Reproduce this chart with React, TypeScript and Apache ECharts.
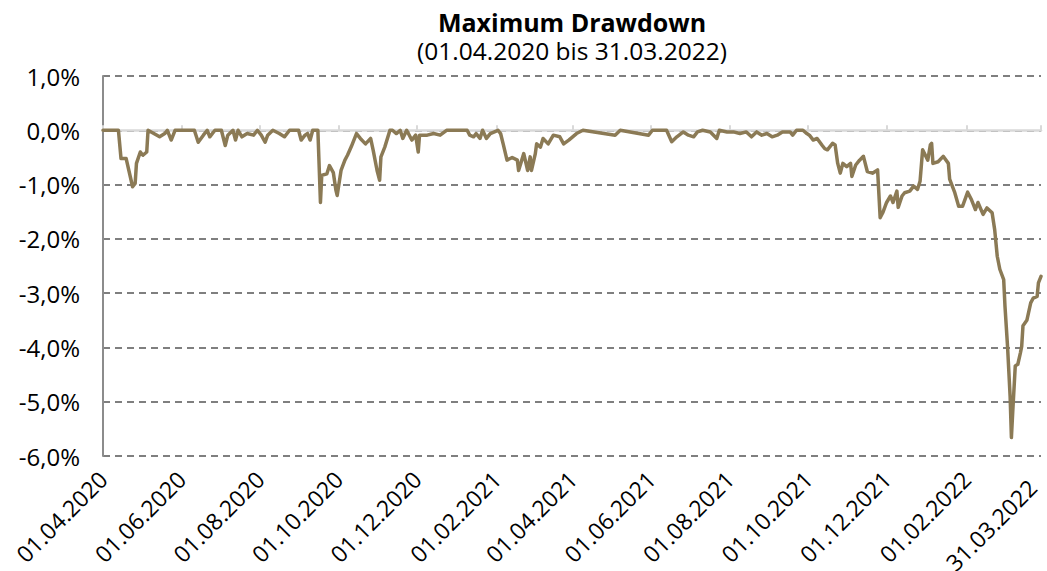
import React, { useEffect, useRef } from 'react';
import * as echarts from 'echarts';

const chartTitle = 'Maximum Drawdown';
const chartSubtitle = '(01.04.2020 bis 31.03.2022)';
const axisStart = '2020-04-01';
const axisEnd = '2022-03-31';
const tickDates = [
  '2020-04-01', '2020-06-01', '2020-08-01', '2020-10-01', '2020-12-01', '2021-02-01',
  '2021-04-01', '2021-06-01', '2021-08-01', '2021-10-01', '2021-12-01', '2022-02-01', '2022-03-31',
];
const yMin = -6;
const yMax = 1;
const yStep = 1;

const drawdownDates = [
  '2020-04-01', '2020-04-13', '2020-04-15', '2020-04-19', '2020-04-24', '2020-04-26', '2020-04-27', '2020-04-30',
  '2020-05-02', '2020-05-05', '2020-05-06', '2020-05-15', '2020-05-19', '2020-05-21', '2020-05-24', '2020-05-27',
  '2020-06-11', '2020-06-14', '2020-06-18', '2020-06-21', '2020-06-23', '2020-06-27',
  '2020-07-02', '2020-07-05', '2020-07-07', '2020-07-11', '2020-07-13', '2020-07-15', '2020-07-18', '2020-07-22', '2020-07-27', '2020-07-30',
  '2020-08-02', '2020-08-05', '2020-08-07', '2020-08-11', '2020-08-16', '2020-08-20', '2020-08-24', '2020-08-31',
  '2020-09-02', '2020-09-05', '2020-09-07', '2020-09-09', '2020-09-11', '2020-09-15', '2020-09-17', '2020-09-18',
  '2020-09-22', '2020-09-24', '2020-09-27', '2020-09-29', '2020-09-30',
  '2020-10-03', '2020-10-06', '2020-10-08', '2020-10-11', '2020-10-15', '2020-10-18', '2020-10-22', '2020-10-26', '2020-10-28', '2020-10-31',
  '2020-11-02', '2020-11-03', '2020-11-06', '2020-11-10', '2020-11-12', '2020-11-15', '2020-11-18', '2020-11-20', '2020-11-23', '2020-11-27', '2020-11-30',
  '2020-12-02', '2020-12-03', '2020-12-09', '2020-12-14', '2020-12-19', '2020-12-24',
  '2021-01-09', '2021-01-11', '2021-01-14', '2021-01-16', '2021-01-19', '2021-01-21', '2021-01-24', '2021-01-27',
  '2021-02-02', '2021-02-04', '2021-02-06', '2021-02-09', '2021-02-13', '2021-02-17', '2021-02-18', '2021-02-22', '2021-02-25', '2021-02-27', '2021-02-28',
  '2021-03-03', '2021-03-04', '2021-03-07', '2021-03-09', '2021-03-13', '2021-03-17', '2021-03-22', '2021-03-25', '2021-03-29',
  '2021-04-04', '2021-04-09', '2021-05-04', '2021-05-08', '2021-05-30',
  '2021-06-02', '2021-06-13', '2021-06-17', '2021-06-21', '2021-06-26', '2021-06-30',
  '2021-07-04', '2021-07-07', '2021-07-11', '2021-07-17', '2021-07-22', '2021-07-24', '2021-07-30',
  '2021-08-04', '2021-08-09', '2021-08-14', '2021-08-18', '2021-08-22', '2021-08-26', '2021-08-30',
  '2021-09-03', '2021-09-07', '2021-09-11', '2021-09-17', '2021-09-19', '2021-09-22', '2021-09-27', '2021-09-30',
  '2021-10-02', '2021-10-05', '2021-10-08', '2021-10-12', '2021-10-14', '2021-10-16', '2021-10-20', '2021-10-22', '2021-10-24', '2021-10-26', '2021-10-28', '2021-10-31',
  '2021-11-03', '2021-11-04', '2021-11-07', '2021-11-10', '2021-11-13', '2021-11-16', '2021-11-20', '2021-11-24', '2021-11-26', '2021-11-28',
  '2021-12-01', '2021-12-04', '2021-12-06', '2021-12-09', '2021-12-10', '2021-12-13', '2021-12-15', '2021-12-19', '2021-12-22', '2021-12-25', '2021-12-27', '2021-12-29',
  '2022-01-02', '2022-01-04', '2022-01-05', '2022-01-06', '2022-01-10', '2022-01-14', '2022-01-18', '2022-01-19', '2022-01-23', '2022-01-26', '2022-01-29',
  '2022-02-02', '2022-02-05', '2022-02-08', '2022-02-10', '2022-02-14', '2022-02-17', '2022-02-21', '2022-02-23', '2022-02-25', '2022-02-27',
  '2022-03-02', '2022-03-03', '2022-03-05', '2022-03-07', '2022-03-08', '2022-03-09', '2022-03-11', '2022-03-13', '2022-03-15', '2022-03-16',
  '2022-03-17', '2022-03-20', '2022-03-23', '2022-03-25', '2022-03-28', '2022-03-29', '2022-03-31',
];

const drawdownValues = [
  0, 0, -0.52, -0.52, -1.04, -0.98, -0.61, -0.40,
  -0.46, -0.40, 0, -0.12, -0.06, 0, -0.18, 0,
  0, -0.22, -0.09, 0, -0.12, 0,
  0, -0.28, -0.09, 0, -0.18, 0, -0.12, -0.06, -0.09, 0,
  -0.09, -0.22, -0.09, 0, -0.06, -0.12, 0, 0,
  -0.18, -0.09, -0.06, -0.18, 0, 0, -1.33, -0.83,
  -0.80, -0.65, -0.78, -1.10, -1.20,
  -0.74, -0.55, -0.46, -0.30, -0.06, -0.15, -0.25, -0.15, -0.37, -0.74,
  -0.92, -0.49, -0.31, 0, 0, -0.06, 0, -0.15, 0, -0.18, -0.09,
  -0.40, -0.09, -0.09, -0.06, -0.09, 0,
  0, -0.09, -0.12, -0.06, -0.15, 0, -0.15, -0.06,
  0, -0.06, -0.25, -0.55, -0.50, -0.55, -0.74, -0.43, -0.74, -0.49, -0.74,
  -0.43, -0.25, -0.31, -0.15, -0.25, -0.09, -0.12, -0.25, -0.18,
  -0.06, 0, -0.09, 0, -0.09,
  0, 0, -0.21, -0.12, -0.03, -0.09,
  -0.12, -0.03, 0, -0.03, -0.15, 0, -0.03,
  -0.03, -0.06, -0.03, -0.12, -0.03, -0.09, -0.06,
  -0.12, -0.09, -0.03, -0.03, -0.09, 0, 0, -0.06,
  -0.09, -0.18, -0.15, -0.28, -0.34, -0.36, -0.24, -0.27, -0.61, -0.79, -0.61, -0.67,
  -0.61, -0.85, -0.64, -0.55, -0.48, -0.76, -0.79, -0.73, -1.61, -1.52,
  -1.33, -1.21, -1.33, -1.12, -1.42, -1.21, -1.15, -1.12, -1.03, -1.09, -0.94, -0.36,
  -0.55, -0.27, -0.24, -0.61, -0.58, -0.48, -0.61, -0.90, -1.15, -1.40, -1.40,
  -1.14, -1.28, -1.46, -1.33, -1.55, -1.43, -1.52, -1.83, -2.32, -2.56,
  -2.75, -3.24, -3.98, -4.90, -5.66, -5.20, -4.34, -4.31, -4.10, -3.98,
  -3.60, -3.50, -3.18, -3.09, -3.06, -2.81, -2.69,
];

function buildCalendar(start: string, end: string): string[] {
  const out: string[] = [];
  const [sy, sm, sd] = start.split('-').map(Number);
  const [ey, em, ed] = end.split('-').map(Number);
  let t = Date.UTC(sy, sm - 1, sd);
  const stop = Date.UTC(ey, em - 1, ed);
  while (t <= stop) {
    const d = new Date(t);
    const y = d.getUTCFullYear();
    const m = String(d.getUTCMonth() + 1).padStart(2, '0');
    const dd = String(d.getUTCDate()).padStart(2, '0');
    out.push(`${y}-${m}-${dd}`);
    t += 86400000;
  }
  return out;
}

function formatDate(iso: string): string {
  const [y, m, d] = iso.split('-');
  return `${d}.${m}.${y}`;
}

const FONT = '"Open Sans", "Noto Sans", sans-serif';

export default function App() {
  const ref = useRef<HTMLDivElement>(null);

  useEffect(() => {
    if (!ref.current) return;
    const chart = echarts.init(ref.current, null, { renderer: 'svg' });
    const categories = buildCalendar(axisStart, axisEnd);
    const tickSet = new Set(tickDates);
    const seriesData = drawdownDates.map((d, i) => [d, drawdownValues[i]]);
    const plotLeft = 103;
    const plotRight = 6;
    const centerX = plotLeft + (1047 - plotLeft - plotRight) / 2;

    chart.setOption({
      animation: false,
      textStyle: { fontFamily: FONT },
      grid: { left: plotLeft, right: plotRight, top: 76, bottom: 115, containLabel: false, outerBoundsMode: 'none' },
      graphic: [
        {
          type: 'text',
          x: centerX,
          y: 22,
          style: {
            text: chartTitle,
            fontFamily: FONT,
            fontSize: 25,
            lineHeight: 25,
            fontWeight: 'bold',
            fill: '#000',
            textAlign: 'center',
            textVerticalAlign: 'middle',
          },
        },
        {
          type: 'text',
          x: centerX,
          y: 50,
          style: {
            text: chartSubtitle,
            fontFamily: FONT,
            fontSize: 24.5,
            lineHeight: 24.5,
            fill: '#000',
            textAlign: 'center',
            textVerticalAlign: 'middle',
          },
        },
      ],
      xAxis: [
        {
          type: 'category',
          data: categories,
          boundaryGap: false,
          position: 'bottom',
          axisLine: { show: false, onZero: false },
          axisTick: { show: false },
          splitLine: { show: false },
          axisLabel: {
            interval: (_idx: number, value: string) => tickSet.has(value),
            formatter: (value: string) =>
              value === axisEnd ? `${formatDate(value)}\u00a0\u00a0` : formatDate(value),
            rotate: 45,
            margin: 19,
            fontSize: 23,
            lineHeight: 23,
            color: '#000',
            fontFamily: FONT,
          },
        },
        {
          type: 'category',
          data: categories,
          boundaryGap: false,
          position: 'bottom',
          z: 3,
          axisLine: { show: true, onZero: true, lineStyle: { color: '#d9d9d9', width: 2.5 } },
          axisTick: {
            show: true,
            inside: true,
            length: 5,
            interval: (_idx: number, value: string) => tickSet.has(value),
            lineStyle: { color: '#d9d9d9', width: 2 },
          },
          axisLabel: { show: false },
          splitLine: { show: false },
        },
      ],
      yAxis: {
        type: 'value',
        min: yMin,
        max: yMax,
        interval: yStep,
        axisLine: { show: true, lineStyle: { color: '#8c8c8c', width: 2 } },
        axisTick: { show: false },
        axisLabel: {
          formatter: (v: number) => `${v.toFixed(1).replace('.', ',')}%`,
          fontSize: 24,
          color: '#000',
          margin: 23,
          fontFamily: FONT,
        },
        splitLine: { show: true, lineStyle: { color: '#7f7f7f', width: 2, type: [7, 5] } },
      },
      series: [
        {
          type: 'line',
          xAxisIndex: 0,
          yAxisIndex: 0,
          data: seriesData,
          showSymbol: false,
          symbol: 'none',
          z: 5,
          lineStyle: { color: '#8b7a55', width: 3.5, join: 'round', cap: 'round' },
        },
      ],
    });

    return () => chart.dispose();
  }, []);

  return (
    <div
      ref={ref}
      style={{ position: 'fixed', left: 0, top: 0, width: 1047, height: 571, background: '#fff' }}
    />
  );
}
